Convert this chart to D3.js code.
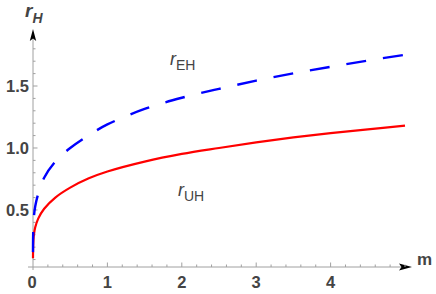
<!DOCTYPE html>
<html>
<head>
<meta charset="utf-8">
<script src="https://cdn.jsdelivr.net/npm/d3@7"></script>
<style>
  html, body { margin: 0; padding: 0; background: #fff; }
  svg { display: block; font-family: "Liberation Sans", Arial, sans-serif; }
</style>
</head>
<body>
<svg id="chart" width="436" height="294"></svg>
<script>
// ---- data ----
const mValues   = [0, 0.002, 0.01, 0.03, 0.07, 0.15, 0.3, 0.5, 0.75, 1, 1.5, 2, 2.5, 3, 3.5, 4, 4.5, 5];
const rUH       = [0.11, 0.2, 0.29, 0.36, 0.43, 0.51, 0.60, 0.68, 0.755, 0.81, 0.89, 0.952, 1.0, 1.045, 1.085, 1.12, 1.15, 1.18];
const rEH       = [0.16, 0.3, 0.43, 0.53, 0.63, 0.76, 0.89, 1.00, 1.103, 1.19, 1.315, 1.405, 1.477, 1.543, 1.602, 1.655, 1.705, 1.752];
const xMajorTicks = [0, 1, 2, 3, 4];
const yMajorTicks = [0.5, 1.0, 1.5];
const xMinorTicks = [0.2,0.4,0.6,0.8,1.2,1.4,1.6,1.8,2.2,2.4,2.6,2.8,3.2,3.4,3.6,3.8,4.2,4.4,4.6,4.8,5.0];
const yMinorTicks = [0.1,0.2,0.3,0.4,0.6,0.7,0.8,0.9,1.1,1.2,1.3,1.4,1.6,1.7,1.8];

const svg = d3.select("#chart");
const x = d3.scaleLinear().domain([0, 5]).range([33, 405]);
const y = d3.scaleLinear().domain([0.04, 1.5]).range([267, 86]);

const axisColor = "#a0a0a0";
const textColor = "#444";

// axes lines
const x0 = x(0), yBase = y(0.04);
svg.append("line").attr("x1", 28).attr("x2", 404).attr("y1", yBase).attr("y2", yBase)
  .attr("stroke", axisColor).attr("stroke-width", 1);
svg.append("line").attr("x1", x0).attr("x2", x0).attr("y1", yBase + 3).attr("y2", 38)
  .attr("stroke", axisColor).attr("stroke-width", 1);

// arrowheads
svg.append("path").attr("d", `M${412},${yBase} L${399},${yBase-3.5} L${401.5},${yBase} L${399},${yBase+3.5} Z`).attr("fill", "#000");
svg.append("path").attr("d", `M${x0},${29} L${x0-3.2},${41} L${x0},${38.5} L${x0+3.2},${41} Z`).attr("fill", "#000");

// x ticks
svg.selectAll(".xmaj").data(xMajorTicks.filter(d => d > 0)).join("line")
  .attr("x1", d => x(d)).attr("x2", d => x(d)).attr("y1", yBase).attr("y2", yBase - 4.5)
  .attr("stroke", axisColor);
svg.selectAll(".xmin").data(xMinorTicks).join("line")
  .attr("x1", d => x(d)).attr("x2", d => x(d)).attr("y1", yBase).attr("y2", yBase - 2.5)
  .attr("stroke", axisColor);
svg.selectAll(".xlab").data(xMajorTicks).join("text")
  .attr("x", d => x(d) + (d === 0 ? -1 : 0)).attr("y", 287.5)
  .attr("text-anchor", "middle").attr("font-size", 16.5).attr("font-weight", "bold")
  .attr("fill", textColor).text(d => d);

// y ticks
svg.selectAll(".ymaj").data(yMajorTicks).join("line")
  .attr("x1", x0).attr("x2", x0 + 4.5).attr("y1", d => y(d)).attr("y2", d => y(d))
  .attr("stroke", axisColor);
svg.selectAll(".ymin").data(yMinorTicks).join("line")
  .attr("x1", x0).attr("x2", x0 + 2.5).attr("y1", d => y(d)).attr("y2", d => y(d))
  .attr("stroke", axisColor);
svg.selectAll(".ylab").data(yMajorTicks).join("text")
  .attr("x", 29).attr("y", d => y(d) + 6)
  .attr("text-anchor", "end").attr("font-size", 16.5).attr("font-weight", "bold")
  .attr("fill", textColor).text(d => d.toFixed(1));

// curves
const line = d3.line().x(d => x(d[0])).y(d => y(d[1])).curve(d3.curveCatmullRom.alpha(0.5));
svg.append("path").datum(mValues.map((m, i) => [m, rUH[i]]))
  .attr("d", line).attr("fill", "none").attr("stroke", "#ff0000").attr("stroke-width", 2.2);
svg.append("path").datum(mValues.map((m, i) => [m, rEH[i]]))
  .attr("d", line).attr("fill", "none").attr("stroke", "#0000ff").attr("stroke-width", 2.4)
  .attr("stroke-dasharray", "20,17");

// axis labels
const yl = svg.append("text").attr("x", 25).attr("y", 17).attr("fill", textColor).attr("font-weight", "bold");
yl.append("tspan").attr("font-style", "italic").attr("font-size", 19).text("r");
yl.append("tspan").attr("font-style", "italic").attr("font-size", 14).attr("dy", 6).text("H");

svg.append("text").attr("x", 417).attr("y", 265).attr("fill", textColor)
  .attr("font-size", 17).attr("font-weight", "bold").text("m");

// curve labels
const le = svg.append("text").attr("x", 170).attr("y", 65).attr("fill", textColor);
le.append("tspan").attr("font-style", "italic").attr("font-size", 18).text("r");
le.append("tspan").attr("font-size", 14).attr("dy", 4.5).text("EH");

const lu = svg.append("text").attr("x", 178).attr("y", 196).attr("fill", textColor);
lu.append("tspan").attr("font-style", "italic").attr("font-size", 18).text("r");
lu.append("tspan").attr("font-size", 14).attr("dy", 4.5).text("UH");
</script>
</body>
</html>
